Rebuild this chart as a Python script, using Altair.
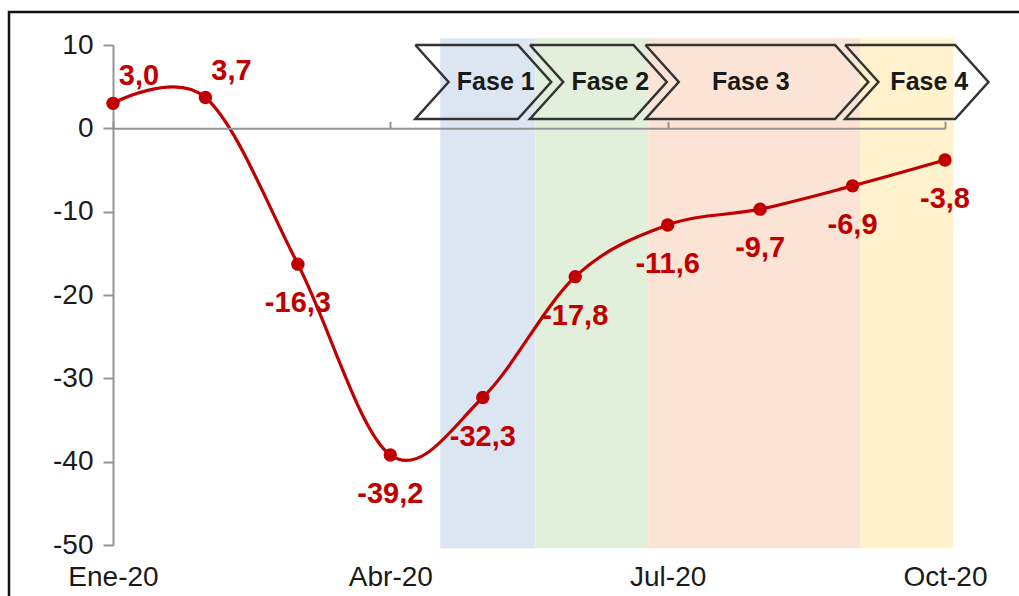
import altair as alt
import pandas as pd

# ---- data ----
months = ["Ene-20", "Feb-20", "Mar-20", "Abr-20", "May-20", "Jun-20",
          "Jul-20", "Ago-20", "Sep-20", "Oct-20"]
values = [3.0, 3.7, -16.3, -39.2, -32.3, -17.8, -11.6, -9.7, -6.9, -3.8]
tick_pos = [0, 3, 6, 9]
tick_labels = ["Ene-20", "Abr-20", "Jul-20", "Oct-20"]

phases = ["Fase 1", "Fase 2", "Fase 3", "Fase 4"]
band_start = [3.54, 4.57, 5.79, 8.08]
band_end = [4.57, 5.79, 8.08, 9.09]
band_colors = ["#DCE6F2", "#E2EFDA", "#FBE4D5", "#FFF2CC"]
band_top, band_bottom = 10.8, -50.4
chev_left = [3.27, 4.51, 5.76, 7.92]
chev_right = [4.38, 5.63, 7.81, 9.11]
chev_depth = 0.36
chev_top, chev_mid, chev_bottom = 10.0, 5.56, 1.12
phase_label_x = [4.14, 5.38, 6.90, 8.83]

FONT = "Liberation Sans"
RED = "#C00000"
W, H = 832, 500

# ---- tables ----
df = pd.DataFrame({
    "m": list(range(len(values))),
    "month": months,
    "v": values,
    "label": [f"{v:.1f}".replace(".", ",") for v in values],
})
bands = pd.DataFrame({"phase": phases, "x0": band_start, "x1": band_end,
                      "y0": band_bottom, "y1": band_top, "color": band_colors})
rows = []
for i, p in enumerate(phases):
    L, R, d = chev_left[i], chev_right[i], chev_depth
    pts = [(L, chev_top), (R, chev_top), (R + d, chev_mid), (R, chev_bottom),
           (L, chev_bottom), (L + d, chev_mid), (L, chev_top)]
    for k, (x, y) in enumerate(pts):
        rows.append({"phase": p, "k": k, "x": x, "y": y})
chev = pd.DataFrame(rows)
plabels = pd.DataFrame({"phase": phases, "x": phase_label_x, "y": chev_mid})

xscale = alt.Scale(domain=[0, 9], nice=False, zero=False)
yscale = alt.Scale(domain=[-50, 10], nice=False, zero=False)

label_expr = "{" + ",".join(f"'{p}':'{l}'" for p, l in zip(tick_pos, tick_labels)) + "}[datum.value]"

band_layer = alt.Chart(bands).mark_rect().encode(
    x=alt.X("x0:Q", scale=xscale,
            axis=alt.Axis(orient="top", offset=-H * 10 / 60, values=tick_pos,
                          labels=False, title=None, domainColor="#959595",
                          domainWidth=2, tickColor="#959595", tickWidth=2,
                          tickSize=7, grid=False, zindex=1)),
    x2="x1:Q",
    y=alt.Y("y0:Q", scale=yscale, axis=None),
    y2="y1:Q",
    color=alt.Color("color:N", scale=None, legend=None),
)

chev_layer = alt.Chart(chev).mark_line(color="#333333", strokeWidth=2.5,
                                       strokeJoin="miter").encode(
    x=alt.X("x:Q", scale=xscale, axis=None),
    y=alt.Y("y:Q", scale=yscale, axis=None),
    detail="phase:N",
    order="k:Q",
)

plabel_layer = alt.Chart(plabels).mark_text(
    font=FONT, fontSize=25, fontWeight="bold", color="#1a1a1a", baseline="middle"
).encode(
    x=alt.X("x:Q", scale=xscale, axis=None),
    y=alt.Y("y:Q", scale=yscale, axis=None),
    text="phase:N",
)

base = alt.Chart(df)
line_layer = base.mark_line(interpolate="cardinal", color=RED, strokeWidth=3.2).encode(
    x=alt.X("m:Q", scale=xscale,
            axis=alt.Axis(orient="bottom", values=tick_pos, labelExpr=label_expr,
                          domain=False, ticks=False, grid=False, title=None,
                          labelFont=FONT, labelFontSize=28, labelColor="#1a1a1a",
                          labelPadding=18, labelFlush=False)),
    y=alt.Y("v:Q", scale=yscale,
            axis=alt.Axis(values=list(range(-50, 11, 10)), grid=False, title=None,
                          labelExpr="'' + datum.value",
                          domainColor="#959595", domainWidth=2,
                          tickColor="#959595", tickWidth=2, tickSize=10,
                          labelFont=FONT, labelFontSize=28, labelColor="#1a1a1a",
                          labelPadding=10)),
)
pt_layer = base.mark_circle(size=180, color=RED, opacity=1).encode(
    x=alt.X("m:Q", scale=xscale, axis=None),
    y=alt.Y("v:Q", scale=yscale, axis=None),
)
lab_above = base.transform_filter("datum.v > 0").mark_text(
    font=FONT, fontSize=29, fontWeight="bold", color=RED, dx=26, dy=-27,
    baseline="middle"
).encode(
    x=alt.X("m:Q", scale=xscale, axis=None),
    y=alt.Y("v:Q", scale=yscale, axis=None),
    text="label:N",
)
lab_below = base.transform_filter("datum.v <= 0").mark_text(
    font=FONT, fontSize=29, fontWeight="bold", color=RED, dy=39,
    baseline="middle"
).encode(
    x=alt.X("m:Q", scale=xscale, axis=None),
    y=alt.Y("v:Q", scale=yscale, axis=None),
    text="label:N",
)

frame = alt.Chart(pd.DataFrame({"a": [0]})).mark_rect(
    fill=None, stroke="#111111", strokeWidth=2.5
).encode(
    x=alt.value(-104), y=alt.value(-33), x2=alt.value(W + 300), y2=alt.value(H + 300)
)

chart = alt.layer(
    band_layer, chev_layer, plabel_layer, line_layer, pt_layer,
    lab_above, lab_below, frame
).resolve_axis(x="independent", y="independent").properties(
    width=W, height=H,
    autosize=alt.AutoSizeParams(type="none"),
    padding={"left": 113, "top": 45, "right": 74, "bottom": 51},
    background="white",
).configure_view(stroke=None)

chart.save("out.html", embed_options={"renderer": "svg", "actions": False})
